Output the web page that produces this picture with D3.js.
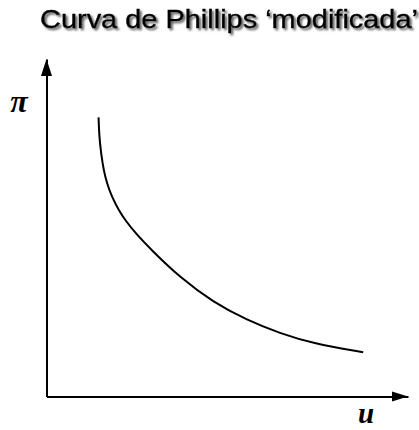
<!DOCTYPE html>
<html>
<head>
<meta charset="utf-8">
<script src="https://cdn.jsdelivr.net/npm/d3@7"></script>
<style>
  html, body { margin: 0; padding: 0; background: #fff; }
  svg { display: block; }
</style>
</head>
<body>
<svg id="chart" width="419" height="430"></svg>
<script>
// Unemployment (u) values along the curve, in axis units 0–100
const uValues = [14.4, 14.6, 15.1, 15.8, 16.7, 18.1, 20.0, 21.8, 24.6, 29.2, 36.9, 46.1, 55.5, 64.6, 73.7, 87.6];
// Inflation (π) values matching each u value, in axis units 0–100
const piValues = [82.7, 76.9, 72.1, 67.1, 63.2, 59.1, 55.2, 52.2, 48.4, 43.2, 35.3, 27.9, 22.6, 18.7, 15.7, 13.1];
const titleText = "Curva de Phillips \u2018modificada\u2019";
const xLabel = "u";
const yLabel = "\u03c0";

const svg = d3.select("#chart");

const x = d3.scaleLinear().domain([0, 100]).range([46.5, 408]);
const y = d3.scaleLinear().domain([0, 100]).range([396.5, 59]);

// Grey drop shadow behind the title
const defs = svg.append("defs");
const f = defs.append("filter").attr("id", "shadow")
  .attr("x", "-5%").attr("y", "-30%").attr("width", "115%").attr("height", "180%");
f.append("feDropShadow").attr("dx", 2).attr("dy", 2)
  .attr("stdDeviation", 1.1).attr("flood-color", "#555").attr("flood-opacity", 0.95);

svg.append("text")
  .attr("x", 40).attr("y", 28)
  .attr("font-family", "Liberation Sans, Arial, sans-serif")
  .attr("font-size", 26)
  .attr("textLength", 378)
  .attr("lengthAdjust", "spacingAndGlyphs")
  .attr("fill", "#000")
  .attr("stroke", "#000").attr("stroke-width", 0.4)
  .attr("filter", "url(#shadow)")
  .text(titleText);

// Axes: plain domain lines without ticks
const xAxis = d3.axisBottom(x).ticks(0).tickSize(0).tickSizeOuter(0);
const yAxis = d3.axisLeft(y).ticks(0).tickSize(0).tickSizeOuter(0);

svg.append("g").attr("transform", `translate(0,${y(0)})`).call(xAxis)
  .call(g => g.select(".domain").attr("stroke", "#000").attr("stroke-width", 2));
svg.append("g").attr("transform", `translate(${x(0)},0)`).call(yAxis)
  .call(g => g.select(".domain").attr("stroke", "#000").attr("stroke-width", 2));

// Arrowheads at the far ends of both axes
const [x0, x1] = x.range();
const [yb, yt] = y.range();
svg.append("path")
  .attr("d", `M${x1},${yb} L${x1 - 16},${yb - 5} L${x1 - 16},${yb + 5} Z`)
  .attr("fill", "#000");
svg.append("path")
  .attr("d", `M${x0},${yt} L${x0 - 5.5},${yt + 17} L${x0 + 5.5},${yt + 17} Z`)
  .attr("fill", "#000");

// The curve itself
const pts = uValues.map((u, i) => [u, piValues[i]]);
const line = d3.line()
  .x(d => x(d[0]))
  .y(d => y(d[1]))
  .curve(d3.curveBasis);

svg.append("path")
  .datum(pts)
  .attr("d", line)
  .attr("fill", "none")
  .attr("stroke", "#000")
  .attr("stroke-width", 2);

// Axis labels
svg.append("text")
  .attr("x", 366).attr("y", 423)
  .attr("text-anchor", "middle")
  .attr("font-family", "Liberation Serif, Times New Roman, serif")
  .attr("font-weight", "bold").attr("font-style", "italic")
  .attr("font-size", 29)
  .text(xLabel);

svg.append("text")
  .attr("x", 19).attr("y", 112)
  .attr("text-anchor", "middle")
  .attr("font-family", "Liberation Serif, Times New Roman, serif")
  .attr("font-weight", "bold").attr("font-style", "italic")
  .attr("font-size", 32)
  .text(yLabel);
</script>
</body>
</html>
